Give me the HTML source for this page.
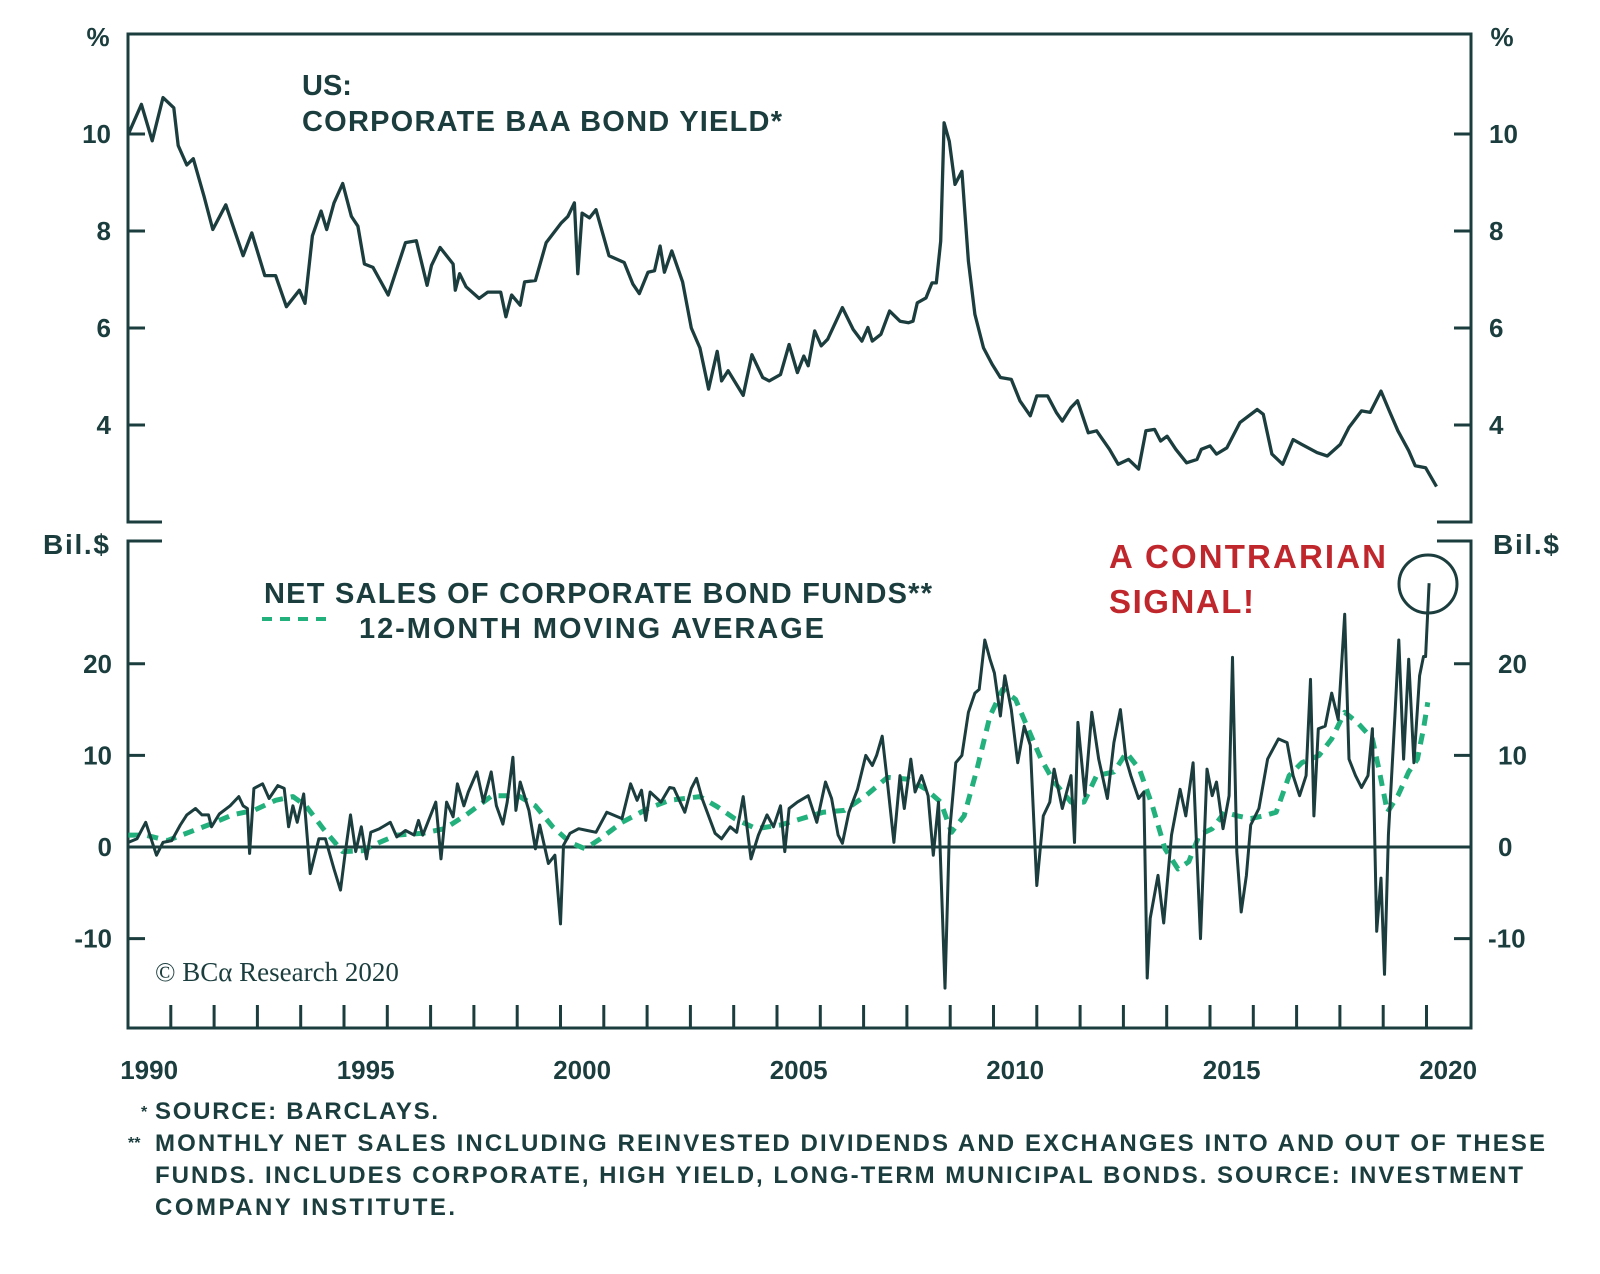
<!DOCTYPE html>
<html><head><meta charset="utf-8"><style>
html,body{margin:0;padding:0;background:#fff;}
svg{display:block;}
text{font-family:"Liberation Sans",sans-serif;font-weight:bold;fill:#1b3d3d;}
</style></head><body>
<svg id="chart" width="1600" height="1274" viewBox="0 0 1600 1274">
<g id="frame" stroke="#1b3d3d" stroke-width="3" fill="none">
<polyline points="162,522 128,522 128,34 1471,34 1471,522 1437,522"/>
<polyline points="162,541 128,541 128,1028 1471,1028 1471,541 1437,541"/>
</g>
<g id="ticks" stroke="#1b3d3d" stroke-width="3"></g>
<g id="labels"></g>
<g id="series"></g>
<text x="98" y="46" font-size="26" text-anchor="middle">%</text>
<text x="1502" y="46" font-size="26" text-anchor="middle">%</text>
<text x="43" y="554" font-size="28" textLength="66">Bil.$</text>
<text x="1493" y="554" font-size="28" textLength="66">Bil.$</text>
<text x="302" y="95" font-size="29">US:</text>
<text x="302" y="131" font-size="29" textLength="480">CORPORATE BAA BOND YIELD*</text>
<text x="264" y="603" font-size="29" textLength="668">NET SALES OF CORPORATE BOND FUNDS**</text>
<line x1="262" y1="619" x2="332" y2="619" stroke="#22b07d" stroke-width="4" stroke-dasharray="10 8"/>
<text x="359" y="638" font-size="29" textLength="465">12-MONTH MOVING AVERAGE</text>
<text x="1109" y="568" font-size="33" style="fill:#c0272d" textLength="277">A CONTRARIAN</text>
<text x="1109" y="613" font-size="33" style="fill:#c0272d" textLength="145">SIGNAL!</text>
<circle cx="1428" cy="584" r="29" fill="none" stroke="#1b3d3d" stroke-width="3"/>
<text x="155" y="981" font-size="27" style="font-family:'Liberation Serif',serif;font-weight:normal">© BCα Research 2020</text>
<g font-size="24">
<text x="141" y="1117" font-size="16">*</text><text x="155" y="1119" font-size="24" textLength="283">SOURCE: BARCLAYS.</text>
<text x="128" y="1148" font-size="16">**</text><text x="155" y="1151" font-size="24" textLength="1390">MONTHLY NET SALES INCLUDING REINVESTED DIVIDENDS AND EXCHANGES INTO AND OUT OF THESE</text>
<text x="155" y="1183" font-size="24" textLength="1368">FUNDS. INCLUDES CORPORATE, HIGH YIELD, LONG-TERM MUNICIPAL BONDS. SOURCE: INVESTMENT</text>
<text x="155" y="1215" font-size="24" textLength="300">COMPANY INSTITUTE.</text>
</g>
</svg>
<script>
const yieldYears=[1990.02,1990.32,1990.57,1990.82,1991.07,1991.17,1991.37,1991.52,1991.77,1991.97,1992.27,1992.67,1992.87,1993.17,1993.42,1993.67,1993.97,1994.10,1994.27,1994.47,1994.60,1994.77,1994.97,1995.17,1995.32,1995.47,1995.67,1996.02,1996.42,1996.67,1996.92,1997.02,1997.22,1997.52,1997.57,1997.67,1997.82,1998.12,1998.32,1998.62,1998.74,1998.87,1999.07,1999.17,1999.42,1999.67,2000.02,2000.17,2000.32,2000.40,2000.50,2000.67,2000.82,2001.12,2001.47,2001.67,2001.82,2002.02,2002.17,2002.30,2002.40,2002.57,2002.82,2003.02,2003.22,2003.42,2003.62,2003.72,2003.87,2004.22,2004.42,2004.67,2004.82,
2005.08,2005.28,2005.47,2005.62,2005.72,2005.87,2006.02,2006.17,2006.51,2006.76,2006.96,2007.10,2007.20,2007.40,2007.60,2007.84,2008.04,2008.14,2008.24,2008.44,2008.58,2008.68,2008.78,2008.86,2008.98,2009.11,2009.27,2009.42,2009.57,2009.77,2009.97,2010.16,2010.41,2010.61,2010.85,2011.00,2011.25,2011.45,2011.59,2011.79,2011.94,2012.19,2012.38,2012.68,2012.88,2013.12,2013.35,2013.52,2013.72,2013.86,2014.01,2014.21,2014.46,2014.70,2014.80,2015.00,2015.15,2015.39,2015.69,2016.09,2016.23,2016.43,2016.68,2016.92,2017.12,2017.47,2017.71,2018.01,2018.21,2018.50,2018.70,2018.95,2019.14,2019.34,2019.59,2019.74,2019.98,2020.23];
const yieldValues=[10.0,10.61,9.86,10.75,10.54,9.76,9.36,9.49,8.71,8.03,8.54,7.49,7.96,7.08,7.08,6.44,6.78,6.51,7.90,8.41,8.03,8.58,8.98,8.30,8.10,7.32,7.25,6.68,7.76,7.80,6.88,7.29,7.66,7.32,6.78,7.12,6.85,6.61,6.74,6.74,6.23,6.68,6.47,6.95,6.98,7.76,8.17,8.30,8.58,7.12,8.37,8.27,8.44,7.49,7.35,6.91,6.71,7.15,7.18,7.69,7.15,7.59,6.95,6.00,5.59,4.74,5.52,4.91,5.12,4.61,5.45,4.98,4.91,
5.04,5.66,5.08,5.42,5.22,5.94,5.63,5.77,6.42,5.97,5.73,6.01,5.73,5.87,6.35,6.14,6.11,6.14,6.52,6.62,6.93,6.93,7.79,10.23,9.85,8.96,9.23,7.38,6.28,5.59,5.25,4.98,4.94,4.50,4.19,4.60,4.60,4.26,4.08,4.36,4.50,3.84,3.88,3.50,3.19,3.29,3.09,3.88,3.91,3.67,3.77,3.50,3.22,3.29,3.50,3.57,3.40,3.53,4.05,4.32,4.22,3.40,3.19,3.70,3.60,3.43,3.36,3.60,3.95,4.29,4.26,4.70,4.29,3.88,3.47,3.16,3.12,2.73];
const salesYears=[1990.02,1990.22,1990.42,1990.67,1990.82,1991.02,1991.22,1991.37,1991.57,1991.72,1991.87,1991.94,1992.12,1992.37,1992.57,1992.67,1992.77,1992.82,1992.92,1993.12,1993.27,1993.47,1993.62,1993.72,1993.82,1993.92,1994.07,1994.22,1994.42,1994.57,1994.77,1994.92,1995.02,1995.15,1995.27,1995.40,1995.52,1995.62,1995.82,1996.07,1996.22,1996.42,1996.62,1996.72,1996.82,1996.97,1997.12,1997.24,1997.37,1997.52,1997.62,1997.77,1997.87,1998.07,1998.22,1998.40,1998.52,1998.67,1998.77,1998.90,1998.97,1999.07,1999.27,1999.42,1999.52,1999.72,1999.87,2000.00,2000.07,2000.22,2000.42,2000.62,2000.82,2001.07,2001.42,2001.62,2001.77,2001.87,2001.97,2002.07,2002.32,2002.52,2002.62,2002.87,2003.02,2003.14,2003.27,2003.57,2003.72,2003.92,2004.07,2004.22,2004.40,2004.57,2004.77,2004.92,
2005.08,2005.18,2005.28,2005.47,2005.72,2005.92,2006.12,2006.26,2006.41,2006.51,2006.66,2006.86,2007.05,2007.20,2007.30,2007.43,2007.55,2007.70,2007.84,2007.94,2008.09,2008.19,2008.34,2008.49,2008.61,2008.73,2008.88,2008.98,2009.13,2009.27,2009.42,2009.57,2009.67,2009.80,2009.92,2010.02,2010.16,2010.26,2010.41,2010.56,2010.71,2010.85,2011.00,2011.15,2011.30,2011.40,2011.59,2011.79,2011.87,2011.95,2012.11,2012.27,2012.43,2012.63,2012.78,2012.93,2013.06,2013.17,2013.35,2013.47,2013.55,2013.62,2013.80,2013.93,2014.11,2014.31,2014.44,2014.61,2014.78,2014.93,2015.05,2015.15,2015.30,2015.44,2015.52,2015.62,2015.72,2015.84,2015.94,2016.13,2016.33,2016.58,2016.78,2016.92,2017.07,2017.22,2017.32,2017.40,2017.50,2017.66,2017.81,2017.96,2018.11,2018.21,2018.36,2018.50,2018.65,2018.75,2018.85,2018.95,2019.03,2019.12,2019.27,2019.36,2019.47,2019.59,2019.71,2019.84,2019.93,2019.98,2020.06];
const salesValues=[0.5,0.9,2.7,-0.9,0.5,0.7,2.4,3.5,4.2,3.5,3.5,2.2,3.6,4.5,5.5,4.5,4.2,-0.7,6.4,6.9,5.3,6.7,6.4,2.2,4.5,2.7,5.8,-2.9,0.9,0.9,-2.4,-4.7,-0.9,3.5,-0.5,2.2,-1.3,1.6,2.0,2.7,1.1,1.8,1.3,2.9,1.3,3.1,4.9,-1.3,4.9,3.3,6.9,4.5,6.0,8.2,4.9,8.2,4.5,2.5,4.9,9.8,4.0,7.1,4.0,-0.2,2.4,-1.8,-0.9,-8.4,0.2,1.5,2.0,1.8,1.6,3.8,3.1,6.9,5.1,6.2,2.9,6.0,4.9,6.5,6.4,3.8,6.4,7.5,5.3,1.5,0.9,2.2,1.6,5.5,-1.3,1.3,3.5,2.2,
4.5,-0.5,4.2,4.9,5.6,2.7,7.1,5.3,1.3,0.4,3.8,6.3,10.0,8.9,10.0,12.1,7.1,0.5,7.8,4.2,9.6,6.0,7.8,5.6,-0.9,4.9,-15.4,1.3,9.2,10.0,14.7,16.8,17.2,22.6,20.5,19.0,14.3,18.7,15.0,9.2,13.2,11.1,-4.2,3.4,4.9,8.5,4.2,7.8,0.5,13.6,5.6,14.7,9.6,5.3,11.4,15.0,9.6,7.8,5.3,6.0,-14.3,-7.8,-3.1,-8.3,1.3,6.3,3.4,9.2,-10.0,8.5,5.6,7.1,2.0,5.6,20.7,-0.5,-7.1,-3.1,2.4,4.2,9.6,11.8,11.4,7.8,5.6,7.8,18.3,3.4,12.9,13.2,16.8,13.9,25.4,9.6,7.8,6.5,7.8,12.9,-9.2,-3.4,-13.9,1.3,14.3,22.6,9.6,20.5,9.2,18.7,20.8,20.8,28.8];
const maYears=[1990.02,1990.42,1990.92,1991.42,1991.92,1992.42,1992.92,1993.42,1993.82,1994.12,1994.52,1994.97,1995.42,1995.82,1996.22,1996.82,1997.32,1997.82,1998.42,1999.02,1999.42,1999.82,2000.22,2000.57,2000.92,2001.42,2002.02,2002.52,2003.22,2003.62,2004.02,2004.52,
2005.08,2005.57,2006.07,2006.56,2007.05,2007.55,2008.04,2008.44,2008.78,2009.03,2009.32,2009.62,2009.92,2010.21,2010.51,2010.80,2011.10,2011.40,2011.79,2012.09,2012.38,2012.78,2013.07,2013.37,2013.67,2013.96,2014.26,2014.51,2014.75,2015.05,2015.34,2015.64,2015.94,2016.23,2016.53,2016.83,2017.12,2017.52,2017.81,2018.11,2018.40,2018.75,2018.90,2019.10,2019.34,2019.59,2019.79,2019.93,2020.03];
const maValues=[1.3,1.3,0.7,1.6,2.5,3.5,4.0,5.1,5.5,4.5,2.0,-0.5,-0.4,0.5,1.3,1.5,2.0,3.5,5.6,5.6,4.5,2.2,0.5,-0.2,0.9,2.7,4.2,5.1,5.5,4.4,3.1,2.0,
2.4,3.1,3.8,4.0,5.6,7.6,7.4,6.3,4.9,1.6,3.4,8.5,14.3,17.2,16.1,12.9,9.6,7.1,4.9,4.9,7.8,8.2,10.3,8.5,4.5,-0.2,-2.4,-1.6,1.3,2.0,3.8,3.4,3.1,3.4,3.8,7.8,9.2,10.0,11.8,14.7,13.6,11.8,8.5,3.8,5.6,8.2,9.6,12.9,15.8];
const xTickYears=[1991,1992,1993,1994,1995,1996,1997,1998,1999,2000,2001,2002,2003,2004,2005,2006,2007,2008,2009,2010,2011,2012,2013,2014,2015,2016,2017,2018,2019,2020];
const xLabelYears=[1990,1995,2000,2005,2010,2015,2020];
const topTicks=[10,8,6,4];
const bottomTicks=[20,10,0,-10];

const NS="http://www.w3.org/2000/svg";
const X=t=>127.5+(t-1990)*43.3;
const YT=v=>134+(10-v)*48.5;
const YB=v=>847-v*9.16;
function mk(tag,attrs,parent){const e=document.createElementNS(NS,tag);for(const k in attrs)e.setAttribute(k,attrs[k]);parent.appendChild(e);return e;}
const ticks=document.getElementById('ticks'),labels=document.getElementById('labels'),series=document.getElementById('series');
xTickYears.forEach(y=>{const l=mk('line',{x1:X(y),x2:X(y),y1:1005,y2:1028},ticks);

});
xLabelYears.forEach(y=>{const t=mk('text',{x:X(y+0.5),y:1079,'font-size':26,'text-anchor':'middle'},labels);t.textContent=y;

});
topTicks.forEach(v=>{const y=YT(v);
const a=mk('line',{x1:128,x2:145,y1:y,y2:y},ticks);


const b=mk('line',{x1:1454,x2:1471,y1:y,y2:y},ticks);


const t1=mk('text',{x:111,y:y+9,'font-size':26,'text-anchor':'end'},labels);t1.textContent=v;


const t2=mk('text',{x:1489,y:y+9,'font-size':26},labels);t2.textContent=v;

});
bottomTicks.forEach(v=>{const y=YB(v);
if(v===0){const z=mk('line',{x1:128,x2:1471,y1:y,y2:y},ticks);

}
else{const a=mk('line',{x1:128,x2:145,y1:y,y2:y},ticks);


const b=mk('line',{x1:1454,x2:1471,y1:y,y2:y},ticks);

}
const t1=mk('text',{x:112,y:y+9,'font-size':26,'text-anchor':'end'},labels);t1.textContent=v;


const t2=mk('text',{x:v<0?1488:1498,y:y+9,'font-size':26},labels);t2.textContent=v;

});
function pts(xs,vs,fy){return xs.map((t,i)=>X(t).toFixed(1)+','+fy(vs[i]).toFixed(1)).join(' ');}
const ma=mk('polyline',{points:pts(maYears,maValues,YB),fill:'none',stroke:'#22b07d','stroke-width':5,'stroke-dasharray':'11 8','stroke-linejoin':'round'},series);


const ns=mk('polyline',{points:pts(salesYears,salesValues,YB),fill:'none',stroke:'#1b3d3d','stroke-width':3,'stroke-linejoin':'round'},series);


const yl=mk('polyline',{points:pts(yieldYears,yieldValues,YT),fill:'none',stroke:'#1b3d3d','stroke-width':3.3,'stroke-linejoin':'round'},series);


</script>
</body></html>
